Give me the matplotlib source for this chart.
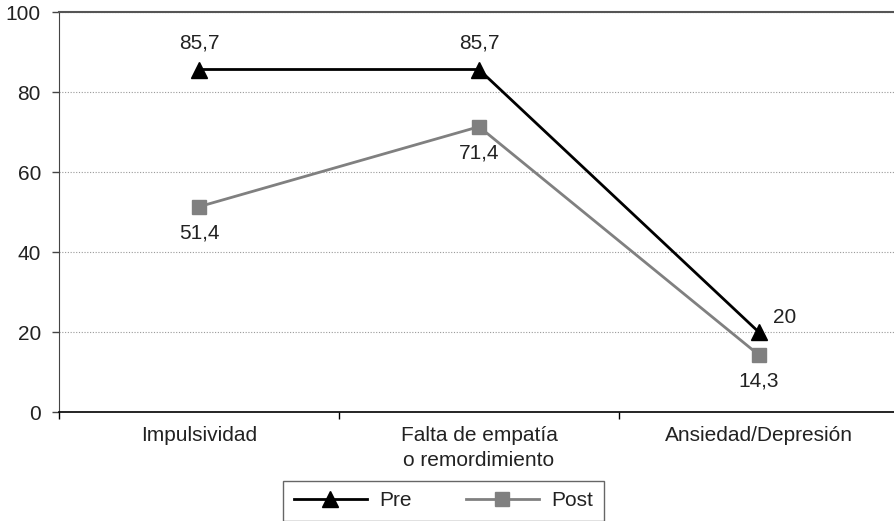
import matplotlib.pyplot as plt
from matplotlib.ticker import FixedLocator

categories = ["Impulsividad", "Falta de empatía\no remordimiento", "Ansiedad/Depresión"]
pre = [85.7, 85.7, 20]
post = [51.4, 71.4, 14.3]
pre_labels = ["85,7", "85,7", "20"]
post_labels = ["51,4", "71,4", "14,3"]
y_ticks = [0, 20, 40, 60, 80, 100]

plt.rcParams['font.family'] = ['Liberation Sans', 'DejaVu Sans']
plt.rcParams['font.size'] = 15

fig = plt.figure(figsize=(8.95, 5.21), dpi=100)
ax = fig.add_axes([59 / 895, 1 - 412.3 / 521, 840 / 895, 400 / 521])

x = list(range(len(categories)))
ax.plot(x, pre, color='black', lw=2, marker='^', ms=11, label='Pre', zorder=3)
ax.plot(x, post, color='#808080', lw=2, marker='s', ms=10, label='Post', zorder=3)

# value labels
for i, (v, t) in enumerate(zip(pre, pre_labels)):
    if i == 2:
        ax.annotate(t, (i, v), xytext=(10, 4), textcoords='offset points',
                    ha='left', va='bottom', color='#222222')
    else:
        ax.annotate(t, (i, v), xytext=(0, 12), textcoords='offset points',
                    ha='center', va='bottom', color='#222222')
for i, (v, t) in enumerate(zip(post, post_labels)):
    ax.annotate(t, (i, v), xytext=(0, -12), textcoords='offset points',
                ha='center', va='top', color='#222222')

ax.set_xlim(-0.5, 2.5)
ax.set_ylim(0, 100)
ax.set_yticks(y_ticks)
ax.yaxis.grid(True, linestyle=(0, (1, 1.5)), color='#999999', lw=0.8)
ax.set_axisbelow(True)

ax.set_xticks(x)
ax.set_xticklabels(categories, color='#222222', linespacing=1.4)
ax.tick_params(axis='x', length=0, pad=10)
ax.xaxis.set_minor_locator(FixedLocator([-0.5, 0.5, 1.5, 2.5]))
ax.tick_params(axis='x', which='minor', length=5, width=1, color='black', direction='out')
ax.tick_params(axis='y', length=5, width=1, color='#444444', pad=8, labelcolor='#222222')

ax.spines['right'].set_visible(False)
ax.spines['top'].set_color('#555555')
ax.spines['top'].set_linewidth(1.5)
ax.spines['left'].set_color('#444444')
ax.spines['bottom'].set_color('black')
ax.spines['bottom'].set_linewidth(1.2)

leg = fig.legend(loc='upper center', bbox_to_anchor=(443.5 / 895, 1 - 481 / 521),
                 ncol=2, frameon=True, fancybox=False, handlelength=3.5,
                 columnspacing=2.6, borderpad=0.5, handletextpad=0.6,
                 borderaxespad=0, labelcolor='#222222')
leg.get_frame().set_edgecolor('#404040')
leg.get_frame().set_linewidth(1)

fig.savefig('out.png', dpi=100)
